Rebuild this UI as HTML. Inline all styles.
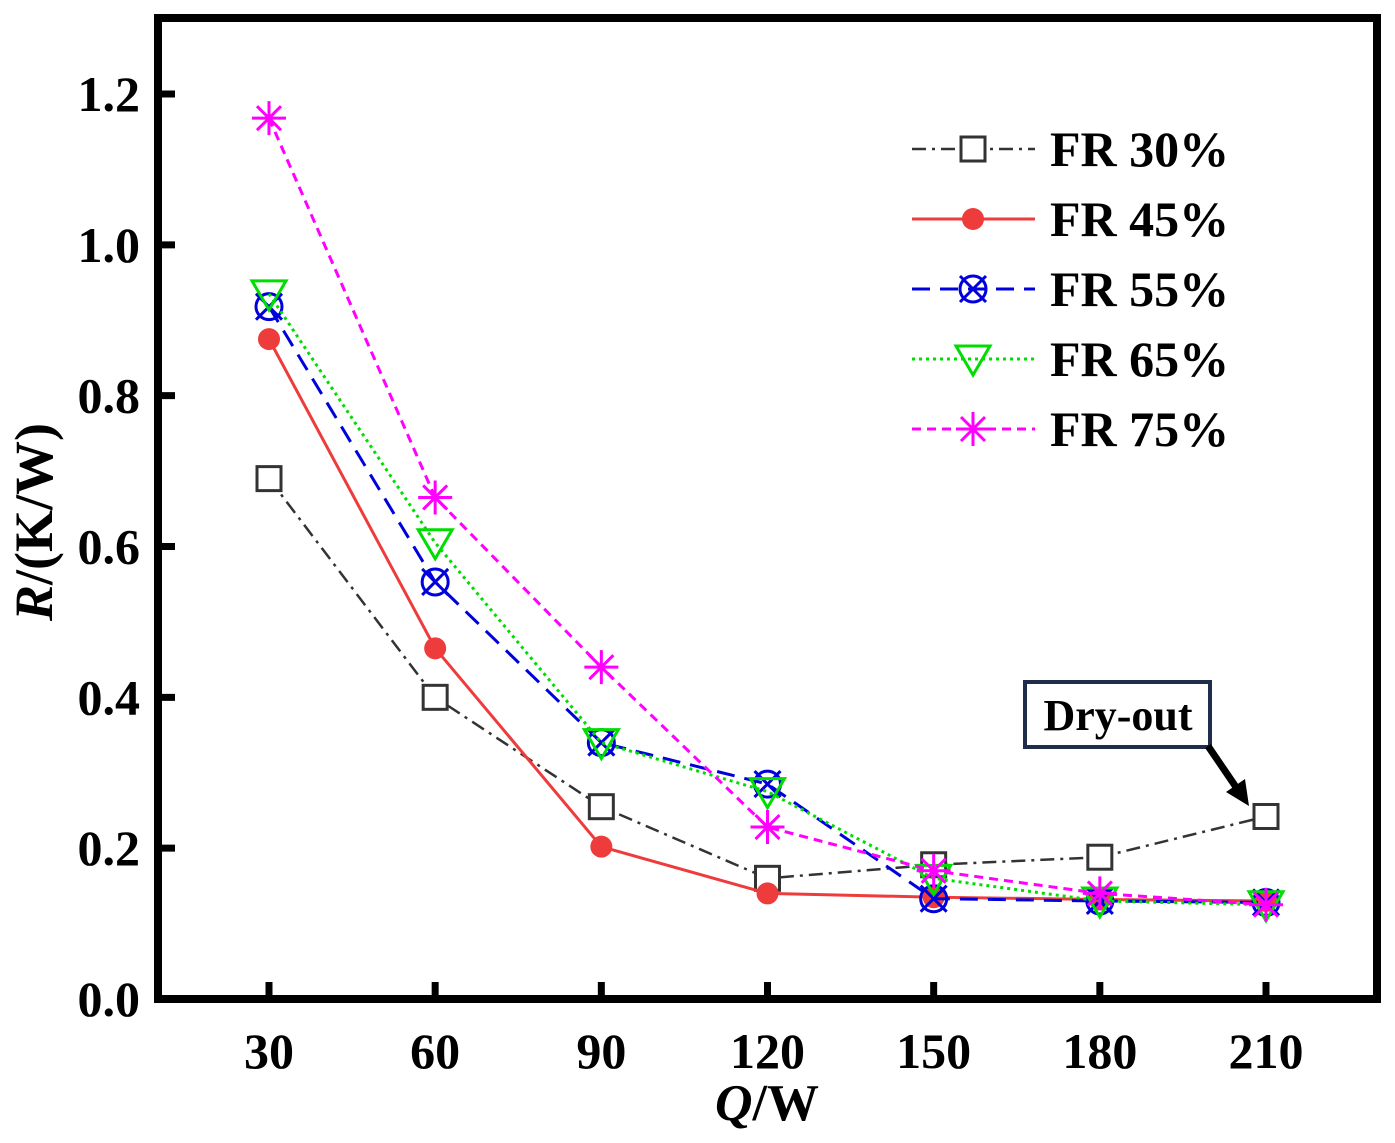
<!DOCTYPE html>
<html><head><meta charset="utf-8"><style>
html,body{margin:0;padding:0;background:#fff;}
svg text{font-family:"Liberation Serif",serif;font-weight:bold;fill:#000;}
</style></head><body>
<svg id="chart" width="1395" height="1138" xmlns="http://www.w3.org/2000/svg">
<g id="grid"></g>
<g id="series"></g>
<g id="legend"></g>
<rect x="158" y="18" width="1219" height="981" fill="none" stroke="#000" stroke-width="8"/>
<text transform="translate(52,522) rotate(-90)" text-anchor="middle" font-size="54"><tspan font-style="italic">R</tspan>/(K/W)</text>
<text x="767" y="1120" text-anchor="middle" font-size="52"><tspan font-style="italic">Q</tspan>/W</text>
<rect x="1025" y="682" width="185" height="65" fill="#fff" stroke="#1f2d4a" stroke-width="4"/>
<text x="1118" y="730" text-anchor="middle" font-size="44">Dry-out</text>
<line x1="1208" y1="746" x2="1238" y2="790" stroke="#000" stroke-width="7"/>
<polygon points="1249,806 1226,792 1245,779" fill="#000"/>
</svg>
<script>
const categories=[30,60,90,120,150,180,210];
const yTicks=[0.0,0.2,0.4,0.6,0.8,1.0,1.2];
const seriesNames=["FR 30%","FR 45%","FR 55%","FR 65%","FR 75%"];
const fr30=[0.69,0.40,0.255,0.16,0.178,0.188,0.242];
const fr45=[0.875,0.465,0.202,0.14,0.135,0.132,0.13];
const fr55=[0.918,0.553,0.34,0.285,0.133,0.13,0.128];
const fr65=[0.935,0.605,0.34,0.275,0.16,0.13,0.125];
const fr75=[1.168,0.665,0.44,0.228,0.17,0.14,0.125];
const NS="http://www.w3.org/2000/svg";
function xs(v){return 269+(v-30)*(1266-269)/180;}
function ys(v){return 999-v*(999-94)/1.2;}
function mk(tag,attrs,parent){const e=document.createElementNS(NS,tag);for(const k in attrs)e.setAttribute(k,attrs[k]);parent.appendChild(e);return e;}
const grid=document.getElementById('grid');
yTicks.forEach(t=>{
 const l=mk('line',{x1:158,x2:175,y1:ys(t),y2:ys(t),stroke:'#000','stroke-width':7},grid);
 
 
 const tx=mk('text',{x:140,y:ys(t)+17,'text-anchor':'end','font-size':50},grid);
 tx.textContent=t.toFixed(1);
 
 
});
categories.forEach(c=>{
 const l=mk('line',{x1:xs(c),x2:xs(c),y1:999,y2:982,stroke:'#000','stroke-width':7},grid);
 
 
 const tx=mk('text',{x:xs(c),y:1068,'text-anchor':'middle','font-size':50},grid);
 tx.textContent=c;
 
 
});
const styles=[
 {color:'#333',dash:'14,6,3,6',w:2.5,m:'square'},
 {color:'#ee3b3b',dash:'',w:3,m:'dot'},
 {color:'#0000dd',dash:'18,10',w:3,m:'circx'},
 {color:'#00dd00',dash:'3,4',w:3,m:'tri'},
 {color:'#ff00ff',dash:'9,6',w:3,m:'star'}];
const data=[fr30,fr45,fr55,fr65,fr75];
function marker(g,type,x,y,color){
 if(type==='square')mk('rect',{x:x-12,y:y-12,width:24,height:24,fill:'#fff',stroke:'#333','stroke-width':3},g);
 else if(type==='dot')mk('circle',{cx:x,cy:y,r:11,fill:color},g);
 else if(type==='circx'){mk('circle',{cx:x,cy:y,r:13,fill:'none',stroke:color,'stroke-width':3},g);
  mk('path',{d:`M${x-13} ${y-13}L${x+13} ${y+13}M${x+13} ${y-13}L${x-13} ${y+13}`,stroke:color,'stroke-width':3},g);}
 else if(type==='tri')mk('polygon',{points:`${x-17},${y-13} ${x+17},${y-13} ${x},${y+16}`,fill:'none',stroke:color,'stroke-width':3},g);
 else {mk('path',{d:`M${x-17} ${y}L${x+17} ${y}M${x} ${y-17}L${x} ${y+17}M${x-12} ${y-12}L${x+12} ${y+12}M${x+12} ${y-12}L${x-12} ${y+12}`,stroke:color,'stroke-width':3},g);}
}
const sg=document.getElementById('series');
data.forEach((arr,i)=>{
 const s=styles[i];
 const g=mk('g',{},sg);
 
 
 const pts=arr.map((v,j)=>xs(categories[j])+','+ys(v)).join(' ');
 mk('polyline',{points:pts,fill:'none',stroke:s.color,'stroke-width':s.w,'stroke-dasharray':s.dash},g);
 arr.forEach((v,j)=>marker(g,s.m,xs(categories[j]),ys(v),s.color));
});
const lg=document.getElementById('legend');
seriesNames.forEach((n,i)=>{
 const s=styles[i];const y=149+i*70;
 const g=mk('g',{},lg);
 
 
 mk('line',{x1:912,x2:1035,y1:y,y2:y,stroke:s.color,'stroke-width':s.w,'stroke-dasharray':s.dash},g);
 marker(g,s.m,973,y,s.color);
 const t=mk('text',{x:1050,y:y+17,'font-size':50},g);
 t.textContent=n;
});
</script>
</body></html>
